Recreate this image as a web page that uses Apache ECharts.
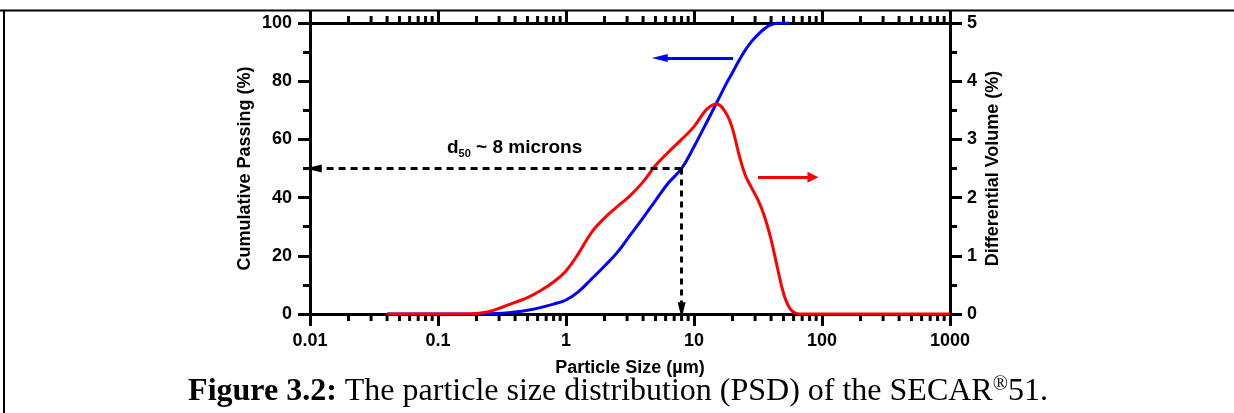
<!DOCTYPE html>
<html>
<head>
<meta charset="utf-8">
<script src="https://cdn.jsdelivr.net/npm/echarts@6/dist/echarts.min.js"></script>
<style>
html, body { margin: 0; padding: 0; background: #fff; }
#chart { width: 1234px; height: 413px; }
</style>
</head>
<body>
<div id="chart"></div>
<script>
// particle size in microns (log axis)
const sizes = [0.04, 0.063, 0.1, 0.16, 0.2, 0.25, 0.32, 0.4, 0.5, 0.63, 0.8, 1, 1.26, 1.58, 2, 2.5, 3.16, 4, 5, 6.3, 8, 10, 12.6, 15, 17.8, 20, 22.4, 25, 28, 31.6, 35.5, 40, 45, 50, 56, 63, 70, 100, 200, 500, 1000];
// cumulative passing (%), left axis
const cumulative = [0, 0, 0, 0, 0, 0.1, 0.3, 0.7, 1.3, 2.2, 3.4, 4.8, 7.8, 12, 16.5, 21, 27, 33, 39, 45, 50, 57.5, 66, 72.5, 79, 83, 87, 90.5, 93.5, 96, 98, 99.4, 100, 100, 100, null, null, null, null, null, null];
// differential volume (%), right axis
const differential = [0, 0, 0, 0, 0.01, 0.04, 0.12, 0.2, 0.28, 0.4, 0.55, 0.74, 1.05, 1.4, 1.65, 1.84, 2.03, 2.27, 2.55, 2.78, 3.0, 3.22, 3.52, 3.61, 3.45, 3.18, 2.75, 2.4, 2.18, 1.96, 1.68, 1.28, 0.78, 0.36, 0.1, 0.01, 0, 0, 0, 0, 0];

const xTicks = [0.01, 0.1, 1, 10, 100, 1000];
const xTickLabels = ['0.01', '0.1', '1', '10', '100', '1000'];
const d50 = 8;

// log minor ticks 2..9 per decade
const minorTicks = [];
for (let k = -2; k < 3; k++) {
  for (let m = 2; m < 10; m++) minorTicks.push([m * Math.pow(10, k), 0]);
}

const font = 'Liberation Sans, Arial, sans-serif';
const serif = 'Liberation Serif, Times New Roman, serif';
const black = '#000';
const tickLabel = { color: black, fontFamily: font, fontWeight: 'bold', fontSize: 18 };

const chartElem = echarts.init(document.getElementById('chart'));

function xLabel(v) {
  for (let i = 0; i < xTicks.length; i++) {
    if (Math.abs(Math.log10(v) - Math.log10(xTicks[i])) < 1e-6) return xTickLabels[i];
  }
  return '';
}

function axisBase() {
  return {
    axisLine: { show: true, onZero: false, lineStyle: { color: black, width: 3 } },
    axisTick: { show: true, inside: false, length: 12, lineStyle: { color: black, width: 3 } },
    splitLine: { show: false }
  };
}

const option = {
  animation: false,
  backgroundColor: '#fff',
  grid: { left: 310, right: 284, top: 23, bottom: 99 },
  xAxis: [
    {
      ...axisBase(),
      type: 'log',
      logBase: 10,
      min: 0.01,
      max: 1000,
      splitNumber: 5,
      position: 'bottom',
      name: 'Particle Size (\u00b5m)',
      nameLocation: 'middle',
      nameGap: 45,
      nameTextStyle: tickLabel,
      axisLabel: { ...tickLabel, margin: 18, formatter: xLabel }
    },
    {
      ...axisBase(),
      type: 'log',
      logBase: 10,
      min: 0.01,
      max: 1000,
      splitNumber: 5,
      position: 'top',
      axisLabel: { show: false }
    }
  ],
  yAxis: [
    {
      ...axisBase(),
      type: 'value',
      position: 'left',
      min: 0,
      max: 100,
      interval: 20,
      minorTick: { show: true, splitNumber: 2, length: 7, lineStyle: { color: black, width: 3 } },
      name: 'Cumulative Passing (%)',
      nameLocation: 'middle',
      nameGap: 56,
      nameRotate: 90,
      nameMoveOverlap: false,
      nameTextStyle: tickLabel,
      axisLabel: { ...tickLabel, margin: 18 }
    },
    {
      ...axisBase(),
      type: 'value',
      position: 'right',
      min: 0,
      max: 5,
      interval: 1,
      minorTick: { show: true, splitNumber: 2, length: 7, lineStyle: { color: black, width: 3 } },
      name: 'Differential Volume (%)',
      nameLocation: 'middle',
      nameGap: 34,
      nameRotate: 90,
      nameMoveOverlap: false,
      nameTextStyle: tickLabel,
      axisLabel: { ...tickLabel, margin: 17 }
    }
  ],
  series: [
    {
      name: 'minor ticks',
      type: 'custom',
      xAxisIndex: 1,
      yAxisIndex: 0,
      clip: false,
      silent: true,
      z: 1,
      data: minorTicks,
      renderItem: function(params, api) {
        const b = api.coord([api.value(0), 0]);
        const t = api.coord([api.value(0), 100]);
        const st = { stroke: black, lineWidth: 3 };
        return {
          type: 'group',
          children: [
            { type: 'line', shape: { x1: b[0], y1: b[1], x2: b[0], y2: b[1] + 7 }, style: st },
            { type: 'line', shape: { x1: t[0], y1: t[1], x2: t[0], y2: t[1] - 7 }, style: st }
          ]
        };
      }
    },
    {
      name: 'Cumulative Passing',
      type: 'line',
      xAxisIndex: 0,
      yAxisIndex: 0,
      data: sizes.map((s, i) => [s, cumulative[i]]),
      smooth: 0.4,
      showSymbol: false,
      connectNulls: false,
      z: 3,
      lineStyle: { color: '#0000ff', width: 3 },
      itemStyle: { color: '#0000ff' },
      markLine: {
        silent: true,
        symbol: ['none', 'triangle'],
        label: { show: false },
        data: [
          [
            { coord: [d50, 50], lineStyle: { color: black, width: 3, type: [7, 5] }, symbolSize: [8, 8] },
            { coord: [0.0107, 50] }
          ],
          [
            { coord: [d50, 50], lineStyle: { color: black, width: 3, type: [6, 5] }, symbolSize: [8, 8] },
            { coord: [d50, 1.3] }
          ],
          [
            { coord: [20.2, 88], lineStyle: { color: '#0000ff', width: 3, type: 'solid' }, symbolSize: [11, 11] },
            { coord: [5.4, 88] }
          ]
        ]
      }
    },
    {
      name: 'Differential Volume',
      type: 'line',
      xAxisIndex: 0,
      yAxisIndex: 1,
      data: sizes.map((s, i) => [s, differential[i]]),
      smooth: 0.4,
      showSymbol: false,
      z: 4,
      lineStyle: { color: '#ff0000', width: 3 },
      itemStyle: { color: '#ff0000' },
      markLine: {
        silent: true,
        symbol: ['none', 'triangle'],
        symbolSize: [11, 11],
        label: { show: false },
        lineStyle: { color: '#ff0000', width: 3, type: 'solid' },
        data: [
          [{ coord: [31.6, 2.35] }, { coord: [85, 2.35] }]
        ]
      }
    }
  ],
  graphic: [
    { type: 'line', shape: { x1: 0, y1: 10.5, x2: 1234, y2: 10.5 }, style: { stroke: black, lineWidth: 2 } },
    { type: 'line', shape: { x1: 4, y1: 10, x2: 4, y2: 413 }, style: { stroke: black, lineWidth: 2 } },
    {
      type: 'text',
      x: 447,
      y: 148,
      style: {
        text: '{t|d}{s|50}{t| ~ 8 microns}',
        align: 'left',
        verticalAlign: 'middle',
        rich: {
          t: { fontFamily: font, fontWeight: 'bold', fontSize: 19, fill: black, lineHeight: 22 },
          s: { fontFamily: font, fontWeight: 'bold', fontSize: 11, fill: black, verticalAlign: 'bottom', lineHeight: 22 }
        }
      }
    },
    {
      type: 'text',
      x: 618,
      y: 392,
      style: {
        text: '{b|Figure 3.2:}{r| The particle size distribution (PSD) of the SECAR}{u|\u00ae}{r|51.}',
        align: 'center',
        verticalAlign: 'middle',
        rich: {
          b: { fontFamily: serif, fontWeight: 'bold', fontSize: 32, fill: black, lineHeight: 34 },
          r: { fontFamily: serif, fontSize: 32, fill: black, lineHeight: 34 },
          u: { fontFamily: serif, fontSize: 20, fill: black, verticalAlign: 'top', lineHeight: 34 }
        }
      }
    }
  ]
};

chartElem.setOption(option);
</script>
</body>
</html>
